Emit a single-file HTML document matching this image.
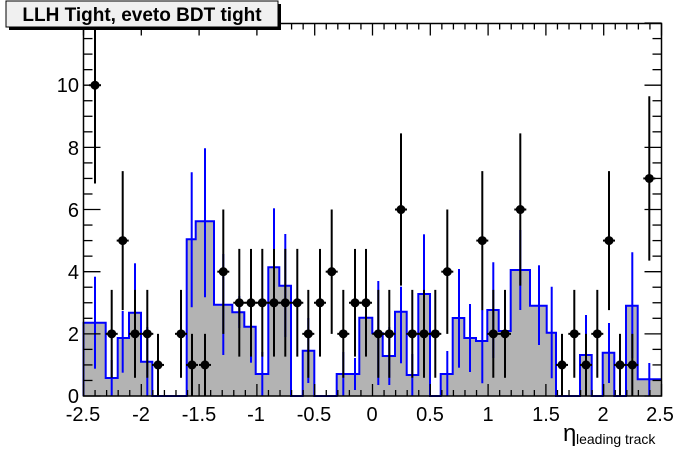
<!DOCTYPE html>
<html><head><meta charset="utf-8"><style>
body{margin:0;background:#fff;}
svg{display:block;font-family:"Liberation Sans",Arial,sans-serif;}
</style></head><body>
<svg id="s" width="696" height="472" xmlns="http://www.w3.org/2000/svg">
<rect width="696" height="472" fill="#fff"/>
<g id="hist"></g>
<g id="blue" stroke="#0000ff" stroke-width="2"></g>
<g id="data" stroke="#000" stroke-width="2"></g>
<g id="axes" stroke="#000" stroke-width="1.3"></g>
<rect x="83.5" y="23.5" width="578" height="372.5" fill="none" stroke="#000" stroke-width="1.5"/>
<g font-size="20" fill="#000" text-anchor="middle">
<text x="83" y="421">-2.5</text><text x="141" y="421">-2</text><text x="199" y="421">-1.5</text>
<text x="256" y="421">-1</text><text x="314" y="421">-0.5</text><text x="372" y="421">0</text>
<text x="430" y="421">0.5</text><text x="488" y="421">1</text><text x="546" y="421">1.5</text>
<text x="603" y="421">2</text><text x="660" y="421">2.5</text>
</g>
<g font-size="20" fill="#000" text-anchor="end">
<text x="79" y="403">0</text><text x="79" y="341">2</text><text x="79" y="279">4</text>
<text x="79" y="217">6</text><text x="79" y="155">8</text><text x="79" y="92">10</text>
<text x="79" y="30">12</text>
</g>
<text x="563" y="441" font-size="24" fill="#000">η</text>
<text x="576" y="444" font-size="14" fill="#000">leading track</text>
<rect x="9" y="4" width="272" height="26" fill="#000"/>
<rect x="6" y="1" width="272" height="26" fill="#f0f0f0" stroke="#000" stroke-width="1"/>
<text x="142" y="21" font-size="19" font-weight="bold" text-anchor="middle" fill="#000">LLH Tight, eveto BDT tight</text>
</svg>
<script>
var NS="http://www.w3.org/2000/svg";
function el(p,t,a){var e=document.createElementNS(NS,t);for(var k in a)e.setAttribute(k,a[k]);document.getElementById(p).appendChild(e);return e;}
var st=[[83.5,322.7],[105.7,378],[117.7,338],[129,312.7],[141,361.7],[152.3,396],[186.7,239.3],[195.7,221.3],[214,304.7],[232.3,312.3],[244.3,326.7],[255.7,374],[268.3,267.3],[279.3,285.7],[291,396],[302.7,350.7],[314.3,396],[336.7,374],[359.3,317.7],[372.3,333.3],[382.7,356],[395,311.7],[406.7,375],[418.3,294],[430,396],[440.7,374],[452.7,318],[464.3,338],[476,341],[487.3,310],[498.7,331],[510.7,270],[530,305.7],[546.7,332.7],[556,396],[580,355],[591.7,396],[602.7,352.7],[614.3,396],[626,305.7],[637.7,379.3]];
var d="M83.5,396";
for(var i=0;i<st.length;i++){var x2=i+1<st.length?st[i+1][0]:661.5;d+=" L"+st[i][0]+","+st[i][1]+" L"+x2+","+st[i][1];}
var d2=d;
d+=" L661.5,396 Z";
el("hist","path",{d:d,fill:"#b3b3b3",stroke:"none"});
el("hist","path",{d:d2,fill:"none",stroke:"#0000ff","stroke-width":2});
var bl=[[95,276.7,368.7],[111.7,360,396],[122.7,311,372.7],[135,263.3,362],[147.3,327,396],[191.7,172.3,307.3],[205,148.3,297.3],[223.3,254,355],[239.3,296,328],[251,290.7,362.7],[262.3,352,396],[274,208.3,326],[285.3,234,337],[308.3,318,383],[343.3,352,396],[355,358,390],[366,300,335],[378.3,281,385],[389.3,327,385],[401,286.7,363.3],[412.3,354,396],[424,234.3,354],[430,296,396],[447.3,351,396],[459,269,367.7],[470,304,372],[482.3,310,383.3],[493.3,262.3,358],[505,310,352],[520.3,230,310],[539,265.3,345],[551.7,286.7,378.3],[586,315,396],[609,323,383],[632.3,252.3,358.3],[649.3,363,396]];
bl.forEach(function(b){el("blue","line",{x1:b[0],x2:b[0],y1:b[1],y2:b[2]});});
var pts=[[95,10],[111.7,2],[122.7,5],[135,2],[147.3,2],[158,1],[181,2],[192,1],[205,1],[223.3,4],[239.3,3],[251,3],[262.3,3],[274,3],[285.3,3],[297.3,3],[308.3,2],[320,3],[331.7,4],[343.3,2],[355,3],[366,3],[378.3,2],[389.3,2],[401,6],[412.3,2],[424,2],[435.3,2],[447.3,4],[482.3,5],[493.3,2],[505,2],[520.3,6],[562,1],[574.3,2],[586,1],[597.3,2],[609,5],[620,1],[632.3,1],[649.3,7]];
function Y(v){return 396-31.08*v;}
pts.forEach(function(p){var x=p[0],v=p[1],e=Math.sqrt(v);
var t=Math.max(Y(v+e),23.5),b=Math.min(Y(v-e),396);
el("data","line",{x1:x,x2:x,y1:t,y2:b});
el("data","line",{x1:x-6,x2:x+6,y1:Y(v),y2:Y(v)});
el("data","circle",{cx:x,cy:Y(v),r:4.5,fill:"#000",stroke:"none"});});
for(var i=0;i<=50;i++){var x=83.5+i*11.56;var L=(i%5==0)?12:6;
el("axes","line",{x1:x,x2:x,y1:396,y2:396-L});el("axes","line",{x1:x,x2:x,y1:23.5,y2:23.5+L});}
for(var i=0;i<=24;i++){var y=396-i*15.54;var L=(i%4==0)?17:9;
el("axes","line",{x1:83.5,x2:83.5+L,y1:y,y2:y});el("axes","line",{x1:661.5,x2:661.5-L,y1:y,y2:y});}
</script>
</body></html>
